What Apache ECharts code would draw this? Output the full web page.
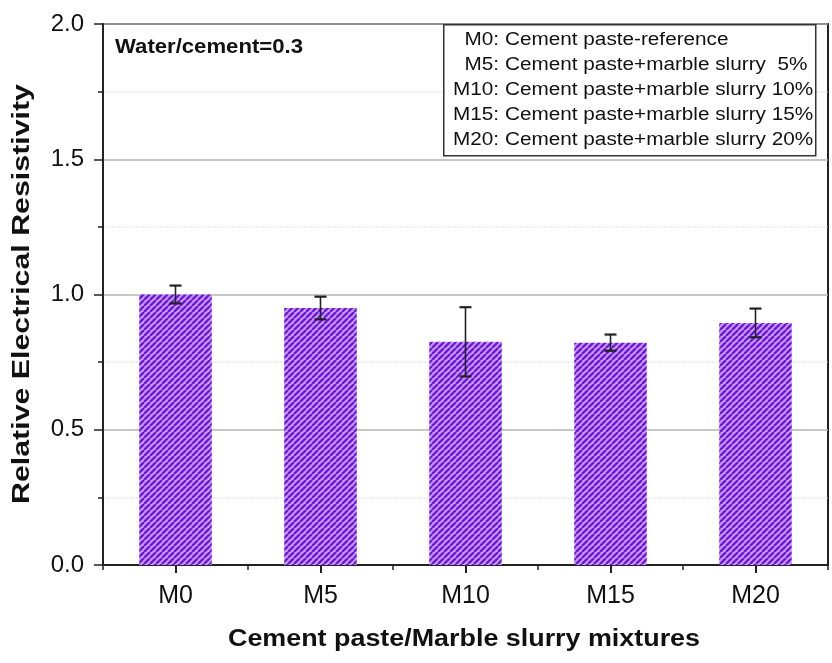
<!DOCTYPE html>
<html>
<head>
<meta charset="utf-8">
<script src="https://cdn.jsdelivr.net/npm/echarts@6/dist/echarts.min.js"></script>
<style>
  html, body { margin: 0; padding: 0; background: #fff; }
  #chart { width: 832px; height: 663px; }
</style>
</head>
<body>
<div id="chart"></div>
<script>
// Relative electrical resistivity of cement paste with marble slurry additions
const categories = ['M0', 'M5', 'M10', 'M15', 'M20'];
const resistivity = [1.0, 0.95, 0.825, 0.822, 0.895];
const errorMargin = [0.033, 0.042, 0.128, 0.030, 0.053];
const yTicks = { min: 0, max: 2, interval: 0.5 };

const legendCodes = ['M0:', 'M5:', 'M10:', 'M15:', 'M20:'];
const legendTexts = [
  'Cement paste-reference',
  'Cement paste+marble slurry  5%',
  'Cement paste+marble slurry 10%',
  'Cement paste+marble slurry 15%',
  'Cement paste+marble slurry 20%'
];
const noteText = 'Water/cement=0.3';
const xTitle = 'Cement paste/Marble slurry mixtures';
const yTitle = 'Relative Electrical Resistivity';

const FONT = '"Liberation Sans", Arial, sans-serif';

// Horizontal stretch factor so a string spans a given width
const measureCtx = document.createElement('canvas').getContext('2d');
function stretchTo(text, weight, size, width) {
  measureCtx.font = weight + ' ' + size + 'px ' + FONT;
  return width / measureCtx.measureText(text).width;
}

// Diagonal hatch tile for the bars
function hatchTile() {
  const s = 6;
  const c = document.createElement('canvas');
  c.width = s; c.height = s;
  const g = c.getContext('2d');
  g.fillStyle = '#cf9cff';
  g.fillRect(0, 0, s, s);
  g.strokeStyle = '#6a1ad8';
  g.lineWidth = 2.4;
  for (const k of [-s, 0, s]) {
    g.beginPath();
    g.moveTo(k, s);
    g.lineTo(k + s, 0);
    g.stroke();
  }
  return c;
}

const errorData = categories.map((c, i) => [i, resistivity[i] - errorMargin[i], resistivity[i] + errorMargin[i]]);

const chart = echarts.init(document.getElementById('chart'));

const legendScale = stretchTo(legendCodes[2] + ' ' + legendTexts[2], 'normal', 18, 360);
const legendRowsY = [40, 65, 90, 115, 140];
const legendGraphics = [];
legendGraphics.push({
  type: 'rect', left: 443, top: 24, z: 10,
  shape: { x: 0, y: 0, width: 372, height: 131 },
  style: { fill: '#fff', stroke: '#333', lineWidth: 1.5 }
});
legendCodes.forEach((code, i) => {
  legendGraphics.push({
    type: 'text', x: 499, y: legendRowsY[i], z: 11, scaleX: legendScale,
    style: { text: code, font: 'normal 18px ' + FONT, fill: '#111', textAlign: 'right', textVerticalAlign: 'middle' }
  });
  legendGraphics.push({
    type: 'text', x: 505, y: legendRowsY[i], z: 11, scaleX: legendScale,
    style: { text: legendTexts[i], font: 'normal 18px ' + FONT, fill: '#111', textAlign: 'left', textVerticalAlign: 'middle' }
  });
});

const option = {
  animation: false,
  grid: {
    left: 103, right: 4, top: 24, bottom: 98,
    show: true, borderColor: '#222', borderWidth: 2, backgroundColor: 'transparent'
  },
  xAxis: [
    {
      type: 'category', data: categories, position: 'bottom',
      axisLine: { lineStyle: { color: '#222', width: 2 } },
      axisTick: { show: true, alignWithLabel: true, length: 8, lineStyle: { color: '#222', width: 2 } },
      axisLabel: { color: '#111', fontSize: 25, fontFamily: FONT, margin: 19 },
      splitLine: { show: false }
    },
    {
      type: 'category', data: categories, position: 'bottom', offset: 0,
      axisLine: { show: false },
      axisTick: { show: true, alignWithLabel: false, length: 5, lineStyle: { color: '#222', width: 1.5 } },
      axisLabel: { show: false },
      splitLine: { show: false }
    }
  ],
  yAxis: {
    type: 'value', min: yTicks.min, max: yTicks.max, interval: yTicks.interval,
    axisLine: { show: true, lineStyle: { color: '#222', width: 2 } },
    axisTick: { show: true, length: 9, lineStyle: { color: '#222', width: 1.5 } },
    minorTick: { show: true, splitNumber: 2, length: 5, lineStyle: { color: '#222', width: 1.5 } },
    axisLabel: { color: '#111', fontSize: 24, fontFamily: FONT, margin: 19, formatter: v => v.toFixed(1) },
    splitLine: { show: true, lineStyle: { color: '#b4b4b4', width: 1.5 } },
    minorSplitLine: { show: true, lineStyle: { color: '#e2e2e2', width: 1.5, type: 'dotted' } }
  },
  series: [
    {
      type: 'bar', data: resistivity, barWidth: '50%', xAxisIndex: 0,
      itemStyle: { color: { image: hatchTile(), repeat: 'repeat' } },
      z: 2
    },
    {
      type: 'custom', xAxisIndex: 0, data: errorData, z: 5,
      renderItem: function (params, api) {
        const x = api.value(0);
        const lo = api.coord([x, api.value(1)]);
        const hi = api.coord([x, api.value(2)]);
        const cap = 6;
        const style = { stroke: '#222', lineWidth: 1.6 };
        const capStyle = { stroke: '#222', lineWidth: 2.2 };
        return {
          type: 'group',
          children: [
            { type: 'line', shape: { x1: lo[0], y1: lo[1], x2: hi[0], y2: hi[1] }, style: style },
            { type: 'line', shape: { x1: hi[0] - cap, y1: hi[1], x2: hi[0] + cap, y2: hi[1] }, style: capStyle },
            { type: 'line', shape: { x1: lo[0] - cap, y1: lo[1], x2: lo[0] + cap, y2: lo[1] }, style: capStyle }
          ]
        };
      }
    }
  ],
  graphic: [
    {
      type: 'text', x: 115, y: 47, z: 11,
      scaleX: stretchTo(noteText, 'bold', 20, 188),
      style: { text: noteText, font: 'bold 20px ' + FONT, fill: '#111', textAlign: 'left', textVerticalAlign: 'middle' }
    },
    {
      type: 'text', x: 464, y: 640, z: 11,
      scaleX: stretchTo(xTitle, 'bold', 23, 472),
      style: { text: xTitle, font: 'bold 23px ' + FONT, fill: '#111', textAlign: 'center', textVerticalAlign: 'middle' }
    },
    {
      type: 'text', x: 22, y: 294, z: 11, rotation: Math.PI / 2,
      scaleX: stretchTo(yTitle, 'bold', 24, 420),
      style: { text: yTitle, font: 'bold 24px ' + FONT, fill: '#111', textAlign: 'center', textVerticalAlign: 'middle' }
    }
  ].concat(legendGraphics)
};

chart.setOption(option);
</script>
</body>
</html>
